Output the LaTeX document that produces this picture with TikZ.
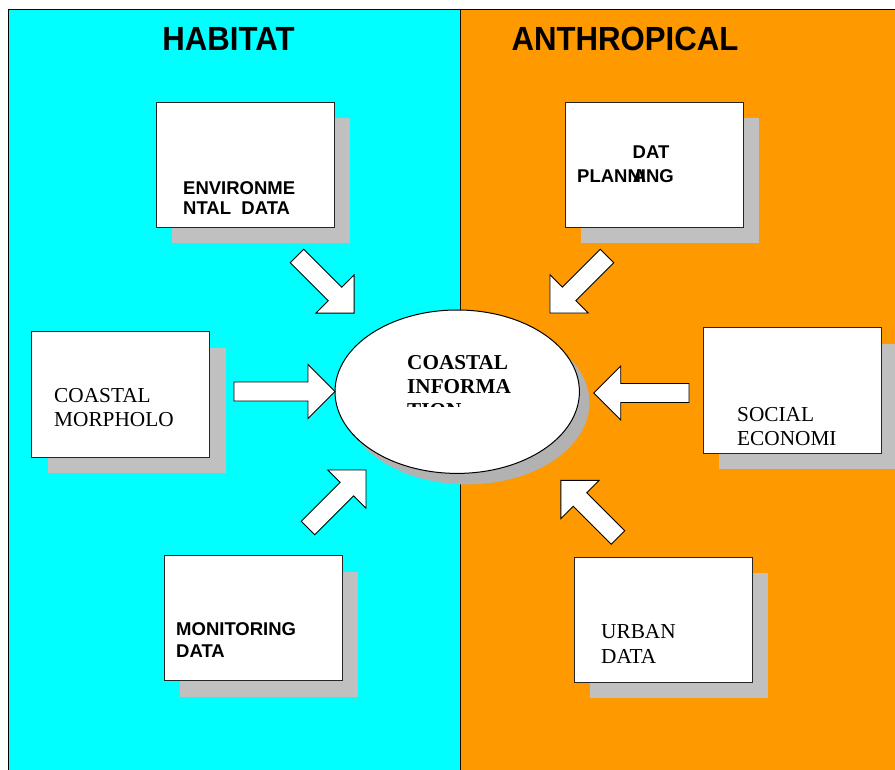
\documentclass[tikz,border=0pt]{standalone}
\usepackage{fontspec}
\setmainfont{Liberation Serif}
\setsansfont{Liberation Sans}
\usetikzlibrary{shapes.geometric,shadows}
\definecolor{cyanbg}{RGB}{0,255,255}
\definecolor{orangebg}{RGB}{255,153,0}
\definecolor{boxshadow}{RGB}{192,192,192}
\definecolor{ellshadow}{RGB}{178,178,178}
\newcommand\blockarrow[5]{%
  \draw[arrowbody] ({#1-9.5*(#4)},{#2+9.5*(#3)})
    -- ({#1+(#5)*(#3)-9.5*(#4)},{#2+(#5)*(#4)+9.5*(#3)})
    -- ({#1+(#5)*(#3)-27*(#4)},{#2+(#5)*(#4)+27*(#3)})
    -- ({#1+(#5+27)*(#3)},{#2+(#5+27)*(#4)})
    -- ({#1+(#5)*(#3)+27*(#4)},{#2+(#5)*(#4)-27*(#3)})
    -- ({#1+(#5)*(#3)+9.5*(#4)},{#2+(#5)*(#4)-9.5*(#3)})
    -- ({#1+9.5*(#4)},{#2-9.5*(#3)}) -- cycle;}
\tikzset{
  databox/.style={draw=black!85, fill=white, line width=1pt, inner sep=0pt, outer sep=0pt,
    minimum width=178pt, minimum height=125pt,
    drop shadow={shadow xshift=16pt, shadow yshift=-16pt, fill=boxshadow, opacity=1}},
  arrowbody/.style={draw=black, fill=white, line width=0.9pt, line join=miter},
  sanslbl/.style={anchor=base west, inner sep=0pt, font=\fontsize{18.5}{20}\selectfont\sffamily\bfseries},
  seriflbl/.style={anchor=base west, inner sep=0pt, font=\fontsize{21.3}{24}\selectfont\rmfamily},
  seriflblb/.style={anchor=base west, inner sep=0pt, font=\fontsize{21.2}{24}\selectfont\rmfamily\bfseries},
  titlelbl/.style={anchor=base, inner sep=0pt, font=\fontsize{33.5}{40}\selectfont\sffamily\bfseries}
}
\begin{document}
\begin{tikzpicture}[x=1pt,y=-1pt]
\useasboundingbox (0,0) rectangle (895,770);
% background panels
\fill[cyanbg] (8.5,10) rectangle (460,770);
\fill[orangebg] (460,10) rectangle (895,770);
\draw[line width=1pt] (8.5,770) -- (8.5,10) -- (895,10);
\draw[line width=1pt] (460,10) -- (460,770);
% titles
\node[titlelbl] (habitat) at (228.5,50.7) {\scalebox{0.93}[1]{HABITAT}};
\node[titlelbl] (anthro) at (625,50.7) {\scalebox{0.93}[1]{ANTHROPICAL}};
% boxes
\node[databox] (env) at (245,165) {};
\node[databox] (dat) at (654.3,165) {};
\node[databox] (morph) at (120.8,394.5) {};
\node[databox] (soc) at (792.3,390.5) {};
\node[databox] (mon) at (253.3,618.3) {};
\node[databox] (urb) at (663.3,619.5) {};
% box texts
\node[sanslbl] (envA) at (183,194.3) {ENVIRONME};
\node[sanslbl] (envB) at (183,215) {NTAL\ \ DATA};
\node[sanslbl] (datA) at (632.5,159) {DAT};
\node[sanslbl] (datB) at (632.7,182.5) {A};
\node[sanslbl] (datC) at (577,182.5) {PLANNING};
\node[seriflbl] (morA) at (54,402) {COASTAL};
\node[seriflbl] (morB) at (54,426) {MORPHOLO};
\node[seriflbl] (socA) at (737,421.5) {SOCIAL};
\node[seriflbl] (socB) at (737,445) {ECONOMI};
\node[sanslbl] (monA) at (176,635.7) {MONITORING};
\node[sanslbl] (monB) at (176,657.7) {DATA};
\node[seriflbl] (urbA) at (601,638) {URBAN};
\node[seriflbl] (urbB) at (601,663) {DATA};
% central ellipse
\node[ellipse, draw=black, fill=white, line width=1pt, inner sep=0pt,
  minimum width=244.4pt, minimum height=163.4pt,
  drop shadow={shadow xshift=10pt, shadow yshift=-11pt, fill=ellshadow, opacity=1}]
  (info) at (457.2,391.7) {};
\node[seriflblb] (infA) at (407,369) {COASTAL};
\node[seriflblb] (infB) at (407,393) {INFORMA};
\begin{scope}
\clip (380,396) rectangle (560,406);
\node[seriflblb] (infC) at (407,417) {TION};
\end{scope}
% block arrows
\blockarrow{234}{391.5}{1}{0}{74}
\blockarrow{689}{393}{-1}{0}{68.3}
\blockarrow{297}{256}{0.7071}{0.7071}{53.7}
\blockarrow{607}{256}{-0.7071}{0.7071}{53.6}
\blockarrow{308}{528}{0.7071}{-0.7071}{55}
\blockarrow{618}{537.5}{-0.7071}{-0.7071}{53.7}
\end{tikzpicture}
\end{document}
